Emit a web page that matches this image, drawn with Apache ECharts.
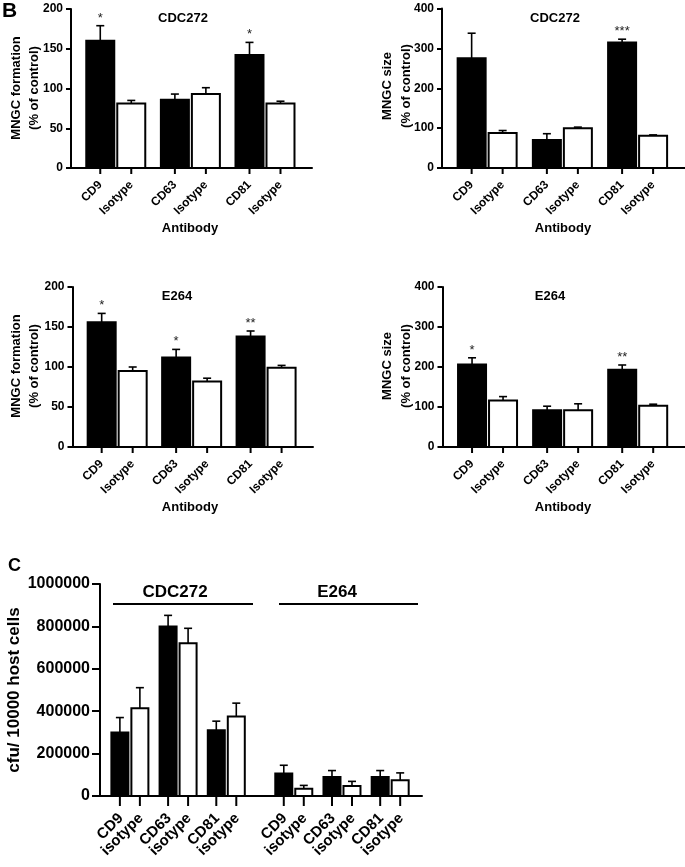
<!DOCTYPE html>
<html><head><meta charset="utf-8">
<script src="https://cdn.jsdelivr.net/npm/echarts@6/dist/echarts.min.js"></script>
<style>html,body{margin:0;padding:0;background:#fff}#c{width:685px;height:867px}</style>
</head><body><div id="c"></div>
<script>
// ---------- data ----------
const antibodies = ['CD9', 'CD63', 'CD81'];
const strains = ['CDC272', 'E264'];
const tickLabelsB = ['CD9', 'Isotype', 'CD63', 'Isotype', 'CD81', 'Isotype'];
const tickLabelsC = ['CD9', 'isotype', 'CD63', 'isotype', 'CD81', 'isotype'];

// Panel B – MNGC formation (% of control)
const formCDC272Ab = [160, 86, 142];
const formCDC272AbErr = [19, 7, 16];
const formCDC272Iso = [81, 93, 81];
const formCDC272IsoErr = [4, 8, 3];
const formCDC272Sig = ['*', '', '*'];

const formE264Ab = [156, 112, 138];
const formE264AbErr = [11, 10, 7];
const formE264Iso = [95, 82, 99];
const formE264IsoErr = [5, 4, 3];
const formE264Sig = ['*', '*', '**'];

// Panel B – MNGC size (% of control)
const sizeCDC272Ab = [275, 70, 315];
const sizeCDC272AbErr = [63, 16, 8];
const sizeCDC272Iso = [88, 100, 81];
const sizeCDC272IsoErr = [6, 2.5, 2];
const sizeCDC272Sig = ['', '', '***'];

const sizeE264Ab = [206, 92, 193];
const sizeE264AbErr = [17, 10, 12];
const sizeE264Iso = [116, 92, 103];
const sizeE264IsoErr = [10, 16, 4];
const sizeE264Sig = ['*', '', '**'];

// Panel C – cfu / 10000 host cells
const cfuCDC272Ab = [300000, 800000, 310000];
const cfuCDC272AbErr = [70000, 52000, 43000];
const cfuCDC272Iso = [414000, 720000, 375000];
const cfuCDC272IsoErr = [97000, 71000, 63000];
const cfuE264Ab = [106000, 90000, 90000];
const cfuE264AbErr = [39000, 30000, 30000];
const cfuE264Iso = [34000, 47000, 74000];
const cfuE264IsoErr = [16000, 22000, 35000];

// ---------- style ----------
const FONT = '"Liberation Sans", Arial, Helvetica, sans-serif';
const GEOM_B = { offset: 15.5, w: 28, lw: 2, elw: 1.6, cap: 4, tick: 6, labDx: 0, labDy: 15, labFs: 12, starFs: 13 };
const GEOM_C = { offset: 10, w: 17, lw: 2, elw: 1.6, cap: 4, tick: 10, labDx: 1, labDy: 20, labFs: 15, starFs: 13 };
const GROUP_STEP_C = 3.4; // category units between strain groups in panel C

function barSeries(gridIdx, xs, vals, errs, sigs, labels, side, fill, g) {
  return {
    type: 'custom', xAxisIndex: gridIdx, yAxisIndex: gridIdx, clip: false, z: 5,
    encode: { x: 0, y: 1 },
    data: vals.map((v, i) => [xs[i], v, errs[i]]),
    renderItem(params, api) {
      const i = params.dataIndex;
      const x = api.value(0), v = api.value(1), e = api.value(2);
      const p0 = api.coord([x, 0]);
      const pv = api.coord([x, v]);
      const pe = api.coord([x, v + e]);
      const cx = p0[0] + side * g.offset;
      const label = labels[i];
      const children = [
        { type: 'line', shape: { x1: cx, y1: pv[1], x2: cx, y2: pe[1] }, style: { stroke: '#000', lineWidth: g.elw } },
        { type: 'line', shape: { x1: cx - g.cap, y1: pe[1], x2: cx + g.cap, y2: pe[1] }, style: { stroke: '#000', lineWidth: g.elw } },
        { type: 'rect', shape: { x: cx - g.w / 2, y: pv[1], width: g.w, height: p0[1] - pv[1] }, style: { fill: fill, stroke: '#000', lineWidth: g.lw } },
        { type: 'line', shape: { x1: cx, y1: p0[1], x2: cx, y2: p0[1] + g.tick }, style: { stroke: '#000', lineWidth: 2 } },
        { type: 'text', x: cx + g.labDx, y: p0[1] + g.labDy, rotation: Math.PI / 4,
          style: { text: label, align: 'right', verticalAlign: 'middle', fill: '#000', fontSize: g.labFs, fontWeight: 'bold', fontFamily: FONT } }
      ];
      const sig = sigs ? sigs[i] : '';
      if (sig) {
        children.push({ type: 'text', x: cx, y: pe[1] - 1,
          style: { text: sig, align: 'center', verticalAlign: 'bottom', fill: '#222', fontSize: g.starFs, fontFamily: FONT } });
      }
      return { type: 'group', children };
    }
  };
}

function pickLabels(labels, sideIdx, n) {
  const out = [];
  for (let i = 0; i < n; i++) out.push(labels[2 * (i % 3) + sideIdx]);
  return out;
}

const xsB = antibodies.map((a, i) => i);
const xsC = strains.flatMap((s, gi) => antibodies.map((a, i) => i + gi * GROUP_STEP_C));

const gridsB = [
  { left: 71, top: 9, width: 241, height: 159 },
  { left: 442, top: 8.5, width: 243, height: 159.5 },
  { left: 72.5, top: 287, width: 240.5, height: 160 },
  { left: 442.5, top: 287, width: 242.5, height: 160 }
];
const gridC = { left: 100, top: 584, width: 322, height: 212 };

const yMaxB = [200, 400, 200, 400];
const yIntB = [50, 100, 50, 100];

const xAxes = [], yAxes = [];
for (let k = 0; k < 4; k++) {
  xAxes.push({ type: 'value', gridIndex: k, min: -0.6, max: 2.63,
    axisLine: { show: true, onZero: false, lineStyle: { color: '#000', width: 2 } },
    axisTick: { show: false }, axisLabel: { show: false }, splitLine: { show: false } });
  yAxes.push({ type: 'value', gridIndex: k, min: 0, max: yMaxB[k], interval: yIntB[k],
    axisLine: { show: true, onZero: false, lineStyle: { color: '#000', width: 2 } },
    axisTick: { show: true, length: 5, lineStyle: { color: '#000', width: 2 } },
    axisLabel: { color: '#000', fontSize: 12, fontWeight: 'bold', fontFamily: FONT, margin: 8 },
    splitLine: { show: false } });
}
xAxes.push({ type: 'value', gridIndex: 4, min: -0.62, max: 6.06,
  axisLine: { show: true, onZero: false, lineStyle: { color: '#000', width: 2 } },
  axisTick: { show: false }, axisLabel: { show: false }, splitLine: { show: false } });
yAxes.push({ type: 'value', gridIndex: 4, min: 0, max: 1000000, interval: 200000,
  axisLine: { show: true, onZero: false, lineStyle: { color: '#000', width: 2 } },
  axisTick: { show: true, length: 8, lineStyle: { color: '#000', width: 2 } },
  axisLabel: { color: '#000', fontSize: 16, fontWeight: 'bold', fontFamily: FONT, margin: 10, formatter: v => String(v) },
  splitLine: { show: false } });

const abLabB = pickLabels(tickLabelsB, 0, 3), isoLabB = pickLabels(tickLabelsB, 1, 3);
const abLabC = pickLabels(tickLabelsC, 0, 6), isoLabC = pickLabels(tickLabelsC, 1, 6);

const series = [
  barSeries(0, xsB, formCDC272Ab, formCDC272AbErr, formCDC272Sig, abLabB, -1, '#000', GEOM_B),
  barSeries(0, xsB, formCDC272Iso, formCDC272IsoErr, null, isoLabB, 1, '#fff', GEOM_B),
  barSeries(1, xsB, sizeCDC272Ab, sizeCDC272AbErr, sizeCDC272Sig, abLabB, -1, '#000', GEOM_B),
  barSeries(1, xsB, sizeCDC272Iso, sizeCDC272IsoErr, null, isoLabB, 1, '#fff', GEOM_B),
  barSeries(2, xsB, formE264Ab, formE264AbErr, formE264Sig, abLabB, -1, '#000', GEOM_B),
  barSeries(2, xsB, formE264Iso, formE264IsoErr, null, isoLabB, 1, '#fff', GEOM_B),
  barSeries(3, xsB, sizeE264Ab, sizeE264AbErr, sizeE264Sig, abLabB, -1, '#000', GEOM_B),
  barSeries(3, xsB, sizeE264Iso, sizeE264IsoErr, null, isoLabB, 1, '#fff', GEOM_B),
  barSeries(4, xsC, cfuCDC272Ab.concat(cfuE264Ab), cfuCDC272AbErr.concat(cfuE264AbErr), null, abLabC, -1, '#000', GEOM_C),
  barSeries(4, xsC, cfuCDC272Iso.concat(cfuE264Iso), cfuCDC272IsoErr.concat(cfuE264IsoErr), null, isoLabC, 1, '#fff', GEOM_C)
];

function txt(x, y, text, fs, opts) {
  opts = opts || {};
  return { type: 'text', x: x, y: y, rotation: opts.rot || 0,
    style: { text: text, fontSize: fs, fontWeight: opts.weight || 'bold', fontFamily: FONT, fill: '#000',
      align: opts.align || 'center', verticalAlign: 'middle', lineHeight: opts.lh || undefined } };
}

const graphics = [
  txt(2, 11, 'B', 21, { align: 'left' }),
  txt(183, 18, strains[0], 13),
  txt(555, 18, strains[0], 13),
  txt(177, 296, strains[1], 13),
  txt(550, 296, strains[1], 13),
  txt(190, 228, 'Antibody', 13),
  txt(563, 228, 'Antibody', 13),
  txt(190, 507, 'Antibody', 13),
  txt(563, 507, 'Antibody', 13),
  txt(25, 88, 'MNGC formation\n(% of control)', 13, { rot: Math.PI / 2, lh: 18 }),
  txt(397, 86, 'MNGC size\n(% of control)', 13, { rot: Math.PI / 2, lh: 19 }),
  txt(25, 366, 'MNGC formation\n(% of control)', 13, { rot: Math.PI / 2, lh: 18 }),
  txt(397, 366, 'MNGC size\n(% of control)', 13, { rot: Math.PI / 2, lh: 19 }),
  txt(8, 566, 'C', 18, { align: 'left' }),
  txt(14.5, 690, 'cfu/ 10000 host cells', 17, { rot: Math.PI / 2 }),
  txt(175, 592, strains[0], 17),
  txt(337, 592, strains[1], 17),
  { type: 'line', shape: { x1: 113, y1: 604, x2: 253, y2: 604 }, style: { stroke: '#000', lineWidth: 2 } },
  { type: 'line', shape: { x1: 279, y1: 604, x2: 418, y2: 604 }, style: { stroke: '#000', lineWidth: 2 } }
];

const chart = echarts.init(document.getElementById('c'), null, { renderer: 'canvas' });
chart.setOption({
  animation: false,
  backgroundColor: '#fff',
  grid: gridsB.concat([gridC]),
  xAxis: xAxes,
  yAxis: yAxes,
  series: series,
  graphic: graphics
});
</script>
</body></html>
